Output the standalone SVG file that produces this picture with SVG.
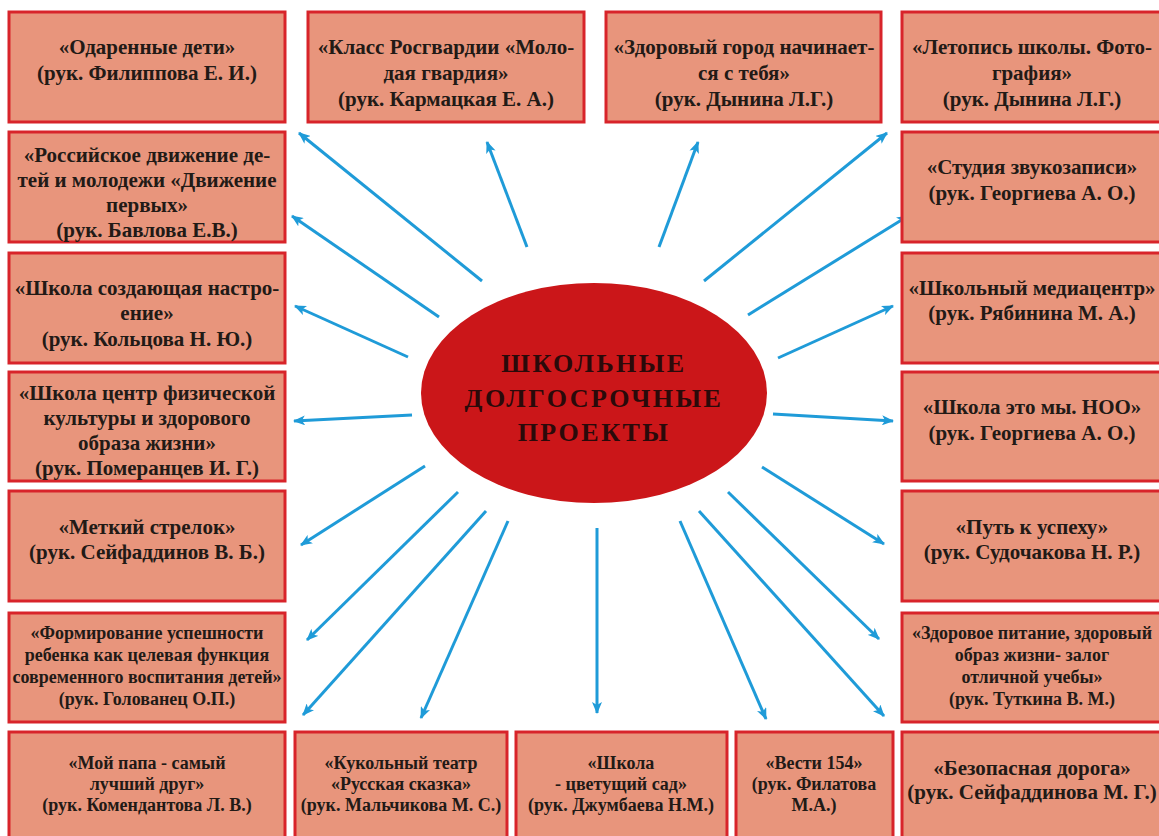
<svg xmlns="http://www.w3.org/2000/svg" width="1159" height="836" viewBox="0 0 1159 836">
<defs>
<style>
.box{fill:#E8957C;stroke:#D8242A;stroke-width:3}
.t{font-family:'Liberation Serif','Tinos','Times New Roman','DejaVu Serif',serif;font-weight:700;font-size:21px;fill:#221a16;text-anchor:middle}
.s{font-size:18px}
.c{stroke:#1F9BD8;stroke-width:3;fill:none;marker-end:url(#ah)}
.h{font-family:'Liberation Serif','Tinos','Times New Roman','DejaVu Serif',serif;font-weight:700;font-size:26px;fill:#2a0a0a;text-anchor:middle;letter-spacing:2.5px}
</style>
<marker id="ah" viewBox="0 0 12 10" refX="11" refY="5" markerWidth="12" markerHeight="10" markerUnits="userSpaceOnUse" orient="auto">
<path d="M0,0 L12,5 L0,10 L3,5 z" fill="#1F9BD8"/>
</marker>
</defs>
<rect width="1159" height="836" fill="#FFFFFF"/>
<g id="connectors">
<line class="c" x1="482" y1="281" x2="299" y2="133"/>
<line class="c" x1="527" y1="247" x2="487" y2="142"/>
<line class="c" x1="659" y1="247" x2="698" y2="142"/>
<line class="c" x1="704" y1="281" x2="887" y2="133"/>
<line class="c" x1="748" y1="315" x2="908" y2="216"/>
<line class="c" x1="778" y1="358" x2="893" y2="306"/>
<line class="c" x1="773" y1="414" x2="893" y2="421"/>
<line class="c" x1="762" y1="467" x2="884" y2="544"/>
<line class="c" x1="728" y1="492" x2="879" y2="639"/>
<line class="c" x1="699" y1="511" x2="884" y2="716"/>
<line class="c" x1="680" y1="521" x2="766" y2="719"/>
<line class="c" x1="597" y1="528" x2="597" y2="713"/>
<line class="c" x1="508" y1="521" x2="421" y2="718"/>
<line class="c" x1="486" y1="511" x2="303" y2="715"/>
<line class="c" x1="458" y1="492" x2="307" y2="640"/>
<line class="c" x1="425" y1="466" x2="301" y2="545"/>
<line class="c" x1="412" y1="415" x2="294" y2="421"/>
<line class="c" x1="408" y1="357" x2="295" y2="306"/>
<line class="c" x1="439" y1="317" x2="292" y2="216"/>
</g>
<g id="center">
<ellipse cx="594" cy="393" rx="173" ry="110" fill="#CB1619"/>
<text class="h" x="594" y="372">ШКОЛЬНЫЕ</text>
<text class="h" x="594" y="407">ДОЛГОСРОЧНЫЕ</text>
<text class="h" x="594" y="441">ПРОЕКТЫ</text>
</g>
<g id="n1"><rect class="box" x="9" y="12" width="276" height="110"/>
<text class="t" x="147" y="54">«Одаренные дети»</text><text class="t" x="147" y="80">(рук. Филиппова Е. И.)</text></g>
<g id="n2"><rect class="box" x="308" y="12" width="276" height="110"/>
<text class="t" x="446" y="54">«Класс Росгвардии «Моло-</text><text class="t" x="446" y="80">дая гвардия»</text><text class="t" x="446" y="106">(рук. Кармацкая Е. А.)</text></g>
<g id="n3"><rect class="box" x="606" y="12" width="275" height="110"/>
<text class="t" x="744" y="54">«Здоровый город начинает-</text><text class="t" x="744" y="80">ся с тебя»</text><text class="t" x="744" y="106">(рук. Дынина Л.Г.)</text></g>
<g id="n4"><rect class="box" x="902" y="12" width="260" height="110"/>
<text class="t" x="1032" y="54">«Летопись школы. Фото-</text><text class="t" x="1032" y="80">графия»</text><text class="t" x="1032" y="106">(рук. Дынина Л.Г.)</text></g>
<g id="n5"><rect class="box" x="9" y="132" width="276" height="110"/>
<text class="t" x="147" y="162">«Российское движение де-</text><text class="t" x="147" y="187">тей и молодежи «Движение</text><text class="t" x="147" y="212">первых»</text><text class="t" x="147" y="237">(рук. Бавлова Е.В.)</text></g>
<g id="n6"><rect class="box" x="902" y="132" width="260" height="110"/>
<text class="t" x="1032" y="174">«Студия звукозаписи»</text><text class="t" x="1032" y="200">(рук. Георгиева А. О.)</text></g>
<g id="n7"><rect class="box" x="9" y="253" width="276" height="110"/>
<text class="t" x="147" y="295">«Школа создающая настро-</text><text class="t" x="147" y="320">ение»</text><text class="t" x="147" y="346">(рук. Кольцова Н. Ю.)</text></g>
<g id="n8"><rect class="box" x="902" y="253" width="260" height="110"/>
<text class="t" x="1032" y="295">«Школьный медиацентр»</text><text class="t" x="1032" y="320">(рук. Рябинина М. А.)</text></g>
<g id="n9"><rect class="box" x="9" y="372" width="276" height="109"/>
<text class="t" x="147" y="400">«Школа центр физической</text><text class="t" x="147" y="425">культуры и здорового</text><text class="t" x="147" y="450">образа жизни»</text><text class="t" x="147" y="475">(рук. Померанцев И. Г.)</text></g>
<g id="n10"><rect class="box" x="902" y="372" width="260" height="109"/>
<text class="t" x="1032" y="414">«Школа это мы. НОО»</text><text class="t" x="1032" y="440">(рук. Георгиева А. О.)</text></g>
<g id="n11"><rect class="box" x="9" y="491" width="276" height="110"/>
<text class="t" x="147" y="534">«Меткий стрелок»</text><text class="t" x="147" y="559">(рук. Сейфаддинов В. Б.)</text></g>
<g id="n12"><rect class="box" x="902" y="491" width="260" height="110"/>
<text class="t" x="1032" y="534">«Путь к успеху»</text><text class="t" x="1032" y="559">(рук. Судочакова Н. Р.)</text></g>
<g id="n13"><rect class="box" x="9" y="613" width="276" height="109"/>
<text class="t s" x="147" y="639">«Формирование успешности</text><text class="t s" x="147" y="661">ребенка как целевая функция</text><text class="t s" x="147" y="683">современного воспитания детей»</text><text class="t s" x="147" y="705">(рук. Голованец О.П.)</text></g>
<g id="n14"><rect class="box" x="902" y="613" width="260" height="109"/>
<text class="t s" x="1032" y="639">«Здоровое питание, здоровый</text><text class="t s" x="1032" y="661">образ жизни- залог</text><text class="t s" x="1032" y="683">отличной учебы»</text><text class="t s" x="1032" y="705">(рук. Туткина В. М.)</text></g>
<g id="n15"><rect class="box" x="9" y="732" width="276" height="110"/>
<text class="t s" x="147" y="769">«Мой папа - самый</text><text class="t s" x="147" y="790">лучший друг»</text><text class="t s" x="147" y="811">(рук. Комендантова Л. В.)</text></g>
<g id="n16"><rect class="box" x="295" y="732" width="212" height="110"/>
<text class="t s" x="401" y="769">«Кукольный театр</text><text class="t s" x="401" y="790">«Русская сказка»</text><text class="t s" x="401" y="811">(рук. Мальчикова М. С.)</text></g>
<g id="n17"><rect class="box" x="516" y="732" width="211" height="110"/>
<text class="t s" x="621" y="769">«Школа</text><text class="t s" x="621" y="790">- цветущий сад»</text><text class="t s" x="621" y="811">(рук. Джумбаева Н.М.)</text></g>
<g id="n18"><rect class="box" x="736" y="732" width="157" height="110"/>
<text class="t s" x="814" y="769">«Вести 154»</text><text class="t s" x="814" y="790">(рук. Филатова</text><text class="t s" x="814" y="811">М.А.)</text></g>
<g id="n19"><rect class="box" x="902" y="732" width="260" height="110"/>
<text class="t" x="1032" y="775">«Безопасная дорога»</text><text class="t" x="1032" y="799">(рук. Сейфаддинова М. Г.)</text></g>
</svg>
